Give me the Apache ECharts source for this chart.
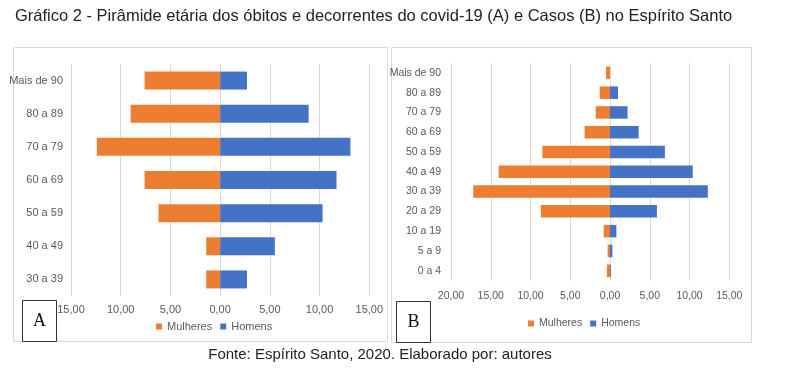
<!DOCTYPE html>
<html>
<head>
<meta charset="utf-8">
<script src="https://cdn.jsdelivr.net/npm/echarts@6/dist/echarts.min.js"></script>
<style>
html,body{margin:0;padding:0;background:#fff;}
#c{width:800px;height:369px;}
</style>
</head>
<body>
<div id="c"></div>
<script>
// Panel A: óbitos
var catsA = ['Mais de 90', '80 a 89', '70 a 79', '60 a 69', '50 a 59', '40 a 49', '30 a 39'];
var mulheresA = [7.6, 9.0, 12.4, 7.6, 6.2, 1.4, 1.4];
var homensA = [2.7, 8.9, 13.1, 11.7, 10.3, 5.5, 2.7];
// Panel B: casos
var catsB = ['Mais de 90', '80 a 89', '70 a 79', '60 a 69', '50 a 59', '40 a 49', '30 a 39', '20 a 29', '10 a 19', '5 a 9', '0 a 4'];
var mulheresB = [0.5, 1.3, 1.8, 3.2, 8.5, 14.0, 17.2, 8.7, 0.8, 0.3, 0.4];
var homensB = [0, 1.0, 2.2, 3.6, 6.9, 10.4, 12.3, 5.9, 0.8, 0.3, 0.1];
var seriesNames = ['Mulheres', 'Homens'];
var titleText = 'Gráfico 2 - Pirâmide etária dos óbitos e decorrentes do covid-19 (A) e Casos (B) no Espírito Santo';
var sourceText = 'Fonte: Espírito Santo, 2020. Elaborado por: autores';

var ORANGE = '#ED7D31', BLUE = '#4472C4', GRID = '#D9D9D9', LBL = '#595959';
function fmt(v) { return Math.abs(v).toFixed(2).replace('.', ','); }
function neg(a) { return a.map(function (v) { return -v; }); }

var chart = echarts.init(document.getElementById('c'), null, { renderer: 'canvas' });
var labelFont = { color: LBL, fontSize: 11, fontFamily: 'Liberation Sans, Arial, sans-serif' };
var labelFontB = { color: LBL, fontSize: 10.5, fontFamily: 'Liberation Sans, Arial, sans-serif' };

var option = {
  animation: false,
  backgroundColor: '#fff',
  grid: [
    { left: 71, width: 298.3, top: 64, height: 232, containLabel: false },
    { left: 451, width: 278.3, top: 63, height: 217.6, containLabel: false }
  ],
  xAxis: [
    { type: 'value', gridIndex: 0, min: -15, max: 15, interval: 5,
      axisLine: { show: false }, axisTick: { show: false },
      splitLine: { show: true, lineStyle: { color: GRID, width: 1 } },
      axisLabel: Object.assign({ formatter: fmt, margin: 8 }, labelFont) },
    { type: 'value', gridIndex: 1, min: -20, max: 15, interval: 5,
      axisLine: { show: false }, axisTick: { show: false },
      splitLine: { show: true, lineStyle: { color: GRID, width: 1 } },
      axisLabel: Object.assign({ formatter: fmt, margin: 10 }, labelFontB) }
  ],
  yAxis: [
    { type: 'category', gridIndex: 0, data: catsA, inverse: true,
      axisLine: { show: false }, axisTick: { show: false },
      axisLabel: Object.assign({ margin: 8 }, labelFont) },
    { type: 'category', gridIndex: 1, data: catsB, inverse: true,
      axisLine: { show: false }, axisTick: { show: false },
      axisLabel: Object.assign({ margin: 10 }, labelFontB) }
  ],
  legend: [
    { data: seriesNames, top: 321, itemWidth: 6, itemHeight: 6, itemGap: 8, icon: 'rect',
      textStyle: labelFont, padding: 0, left: 156 },
    { data: seriesNames, top: 318, itemWidth: 6, itemHeight: 6, itemGap: 8, icon: 'rect',
      textStyle: labelFontB, padding: 0, left: 528 }
  ],
  series: [
    { name: seriesNames[0], type: 'bar', stack: 'a', xAxisIndex: 0, yAxisIndex: 0, data: neg(mulheresA),
      itemStyle: { color: ORANGE }, barWidth: 18 },
    { name: seriesNames[1], type: 'bar', stack: 'a', xAxisIndex: 0, yAxisIndex: 0, data: homensA,
      itemStyle: { color: BLUE }, barWidth: 18 },
    { name: seriesNames[0], type: 'bar', stack: 'b', xAxisIndex: 1, yAxisIndex: 1, data: neg(mulheresB),
      itemStyle: { color: ORANGE }, barWidth: 12.5 },
    { name: seriesNames[1], type: 'bar', stack: 'b', xAxisIndex: 1, yAxisIndex: 1, data: homensB,
      itemStyle: { color: BLUE }, barWidth: 12.5 }
  ],
  graphic: [
    { type: 'text', left: 15, top: 8, style: { text: titleText, fontSize: 16.5, fontFamily: 'Liberation Sans, Arial, sans-serif', fill: '#222' } },
    { type: 'rect', shape: { x: 13.5, y: 47.5, width: 374, height: 294 }, style: { fill: 'none', stroke: '#D9D9D9', lineWidth: 1 }, z: -1 },
    { type: 'rect', shape: { x: 391.5, y: 47.5, width: 360, height: 295 }, style: { fill: 'none', stroke: '#D9D9D9', lineWidth: 1 }, z: -1 },
    { type: 'rect', shape: { x: 22.5, y: 300.5, width: 34, height: 41 }, style: { fill: '#fff', stroke: '#333', lineWidth: 1 } },
    { type: 'text', x: 39.5, y: 321, style: { text: 'A', fontSize: 18, fontFamily: 'Liberation Serif, Times New Roman, serif', fill: '#111', align: 'center', verticalAlign: 'middle' } },
    { type: 'rect', shape: { x: 396.5, y: 301.5, width: 34, height: 41 }, style: { fill: '#fff', stroke: '#333', lineWidth: 1 } },
    { type: 'text', x: 413.5, y: 322, style: { text: 'B', fontSize: 18, fontFamily: 'Liberation Serif, Times New Roman, serif', fill: '#111', align: 'center', verticalAlign: 'middle' } },
    { type: 'text', x: 380, y: 355, style: { text: sourceText, fontSize: 15, fontFamily: 'Liberation Sans, Arial, sans-serif', fill: '#222', align: 'center', verticalAlign: 'middle' } }
  ]
};
chart.setOption(option);
</script>
</body>
</html>
